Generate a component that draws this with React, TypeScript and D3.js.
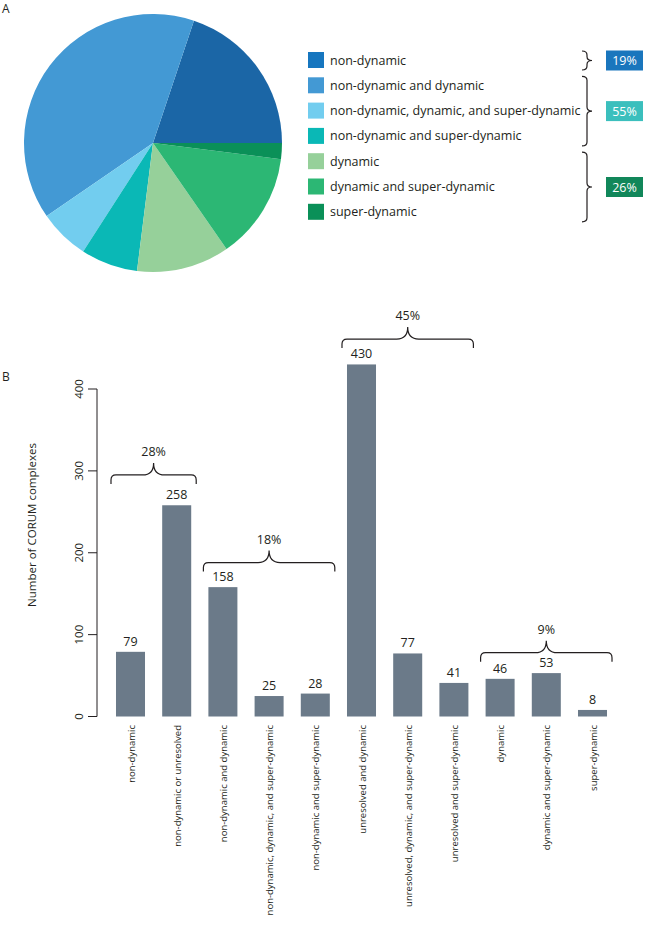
import React from "react";
import * as d3 from "d3";

// ---------- Panel A data ----------
const pieLabels = [
  "non-dynamic",
  "non-dynamic and dynamic",
  "non-dynamic, dynamic, and super-dynamic",
  "non-dynamic and super-dynamic",
  "dynamic",
  "dynamic and super-dynamic",
  "super-dynamic",
];
const pieValues = [19.8, 39.6, 6.3, 7.1, 11.6, 13.3, 2.0];
const pieColors = ["#1b66a6", "#4399d4", "#72cdef", "#0ab8b6", "#96d09a", "#2cb774", "#0a9058"];
const legendColors = ["#1676bf", "#4399d4", "#72cdef", "#0ab8b6", "#96d09a", "#2cb774", "#0a9058"];
const pieGroupFirst = [0, 1, 4];
const pieGroupLast = [0, 3, 6];
const pieGroupLabels = ["19%", "55%", "26%"];
const pieGroupColors = ["#1a76bd", "#3bbfbd", "#11875a"];

// ---------- Panel B data ----------
const barCategories = [
  "non-dynamic",
  "non-dynamic or unresolved",
  "non-dynamic and dynamic",
  "non-dynamic, dynamic, and super-dynamic",
  "non-dynamic and super-dynamic",
  "unresolved and dynamic",
  "unresolved, dynamic, and super-dynamic",
  "unresolved and super-dynamic",
  "dynamic",
  "dynamic and super-dynamic",
  "super-dynamic",
];
const barValues = [79, 258, 158, 25, 28, 430, 77, 41, 46, 53, 8];
const yTicks = [0, 100, 200, 300, 400];
const groupFirst = [0, 2, 5, 8];
const groupLast = [1, 4, 7, 10];
const groupLabels = ["28%", "18%", "45%", "9%"];
const groupLevels = [295, 188, 461, 78];

const FONT = "'Open Sans', 'Noto Sans', sans-serif";
const INK = "#231f20";

function vBrace(x: number, d: number, y0: number, y1: number) {
  const m = x + d / 2;
  const ym = (y0 + y1) / 2;
  const r = 4;
  return `M${x},${y0} Q${m},${y0} ${m},${y0 + r} L${m},${ym - r} Q${m},${ym} ${x + d},${ym} Q${m},${ym} ${m},${ym + r} L${m},${y1 - r} Q${m},${y1} ${x},${y1}`;
}

function hBrace(x0: number, x1: number, yH: number) {
  const yEnd = yH + 9;
  const yTip = yH - 12;
  const xm = (x0 + x1) / 2;
  const r = 5;
  const r2 = 11;
  return `M${x0},${yEnd} L${x0},${yH + r} Q${x0},${yH} ${x0 + r},${yH} L${xm - r2},${yH} Q${xm},${yH} ${xm},${yTip} Q${xm},${yH} ${xm + r2},${yH} L${x1 - r},${yH} Q${x1},${yH} ${x1},${yH + r} L${x1},${yEnd}`;
}

export default function App() {
  // Pie
  const cx = 153, cy = 143, R = 129;
  const pie = d3
    .pie<number>()
    .sort(null)
    .value((d) => d)
    .startAngle(Math.PI / 2)
    .endAngle(Math.PI / 2 - 2 * Math.PI);
  const arcs = pie(pieValues);
  const arcGen = d3.arc<d3.PieArcDatum<number>>().innerRadius(0).outerRadius(R);

  const rowY = (i: number) => 60 + i * 25.3;

  // Bars
  const y = d3.scaleLinear().domain([0, 400]).range([716.5, 389]);
  const x = d3
    .scaleBand<string>()
    .domain(barCategories)
    .range([107.4, 615.6])
    .paddingInner(0.372)
    .paddingOuter(0.186);
  const bw = x.bandwidth();

  return (
    <svg
      width={648}
      height={937}
      style={{ position: "absolute", left: 0, top: 0, background: "#fff" }}
      fontFamily={FONT}
    >
      <text x={2} y={13} fontSize={12} fill={INK}>A</text>
      <text x={2} y={381} fontSize={12} fill={INK}>B</text>

      {/* Pie */}
      <g transform={`translate(${cx},${cy})`}>
        {arcs.map((a, i) => (
          <path key={i} d={arcGen(a) || ""} fill={pieColors[i]} />
        ))}
      </g>

      {/* Legend */}
      {pieLabels.map((lab, i) => (
        <g key={lab}>
          <rect x={308} y={rowY(i) - 8} width={16} height={16} fill={legendColors[i]} />
          <text x={330} y={rowY(i) + 4.5} fontSize={12.5} fill={INK}>{lab}</text>
        </g>
      ))}
      {pieGroupLabels.map((lab, g) => {
        const y0 = rowY(pieGroupFirst[g]) - 9;
        const y1 = rowY(pieGroupLast[g]) + 10;
        const ym = (y0 + y1) / 2;
        return (
          <g key={lab}>
            <path d={vBrace(582, 10, y0, y1)} fill="none" stroke={INK} strokeWidth={1.2} />
            <rect x={606} y={ym - 10} width={37} height={20} fill={pieGroupColors[g]} />
            <text x={624.5} y={ym + 4.5} fontSize={12.5} fill="#fff" textAnchor="middle">{lab}</text>
          </g>
        );
      })}

      {/* Bar chart y axis */}
      <line x1={97} x2={97} y1={y(0)} y2={y(400)} stroke={INK} strokeWidth={1} />
      {yTicks.map((t) => (
        <g key={t}>
          <line x1={88} x2={97} y1={y(t)} y2={y(t)} stroke={INK} strokeWidth={1} />
          <text
            transform={`translate(83,${y(t)}) rotate(-90)`}
            fontSize={11.5}
            fill={INK}
            textAnchor="middle"
          >
            {t}
          </text>
        </g>
      ))}
      <text
        transform={`translate(36,525) rotate(-90)`}
        fontSize={11.5}
        fill={INK}
        textAnchor="middle"
      >
        Number of CORUM complexes
      </text>

      {/* Bars */}
      {barCategories.map((c, i) => {
        const bx = x(c) as number;
        return (
          <g key={c}>
            <rect x={bx} y={y(barValues[i])} width={bw} height={y(0) - y(barValues[i])} fill="#6b7a89" />
            <text x={bx + bw / 2} y={y(barValues[i]) - 6} fontSize={12.5} fill={INK} textAnchor="middle">
              {barValues[i]}
            </text>
            <text
              transform={`translate(${bx + bw / 2 + 4},725) rotate(-90)`}
              fontSize={9.5}
              fill={INK}
              textAnchor="end"
            >
              {c}
            </text>
          </g>
        );
      })}

      {/* Group braces */}
      {groupLabels.map((lab, g) => {
        const x0 = (x(barCategories[groupFirst[g]]) as number) - 5;
        const x1 = (x(barCategories[groupLast[g]]) as number) + bw + 5;
        const yH = y(groupLevels[g]);
        return (
          <g key={lab}>
            <path d={hBrace(x0, x1, yH)} fill="none" stroke={INK} strokeWidth={1.2} />
            <text x={(x0 + x1) / 2} y={yH - 19} fontSize={12.5} fill={INK} textAnchor="middle">{lab}</text>
          </g>
        );
      })}
    </svg>
  );
}
